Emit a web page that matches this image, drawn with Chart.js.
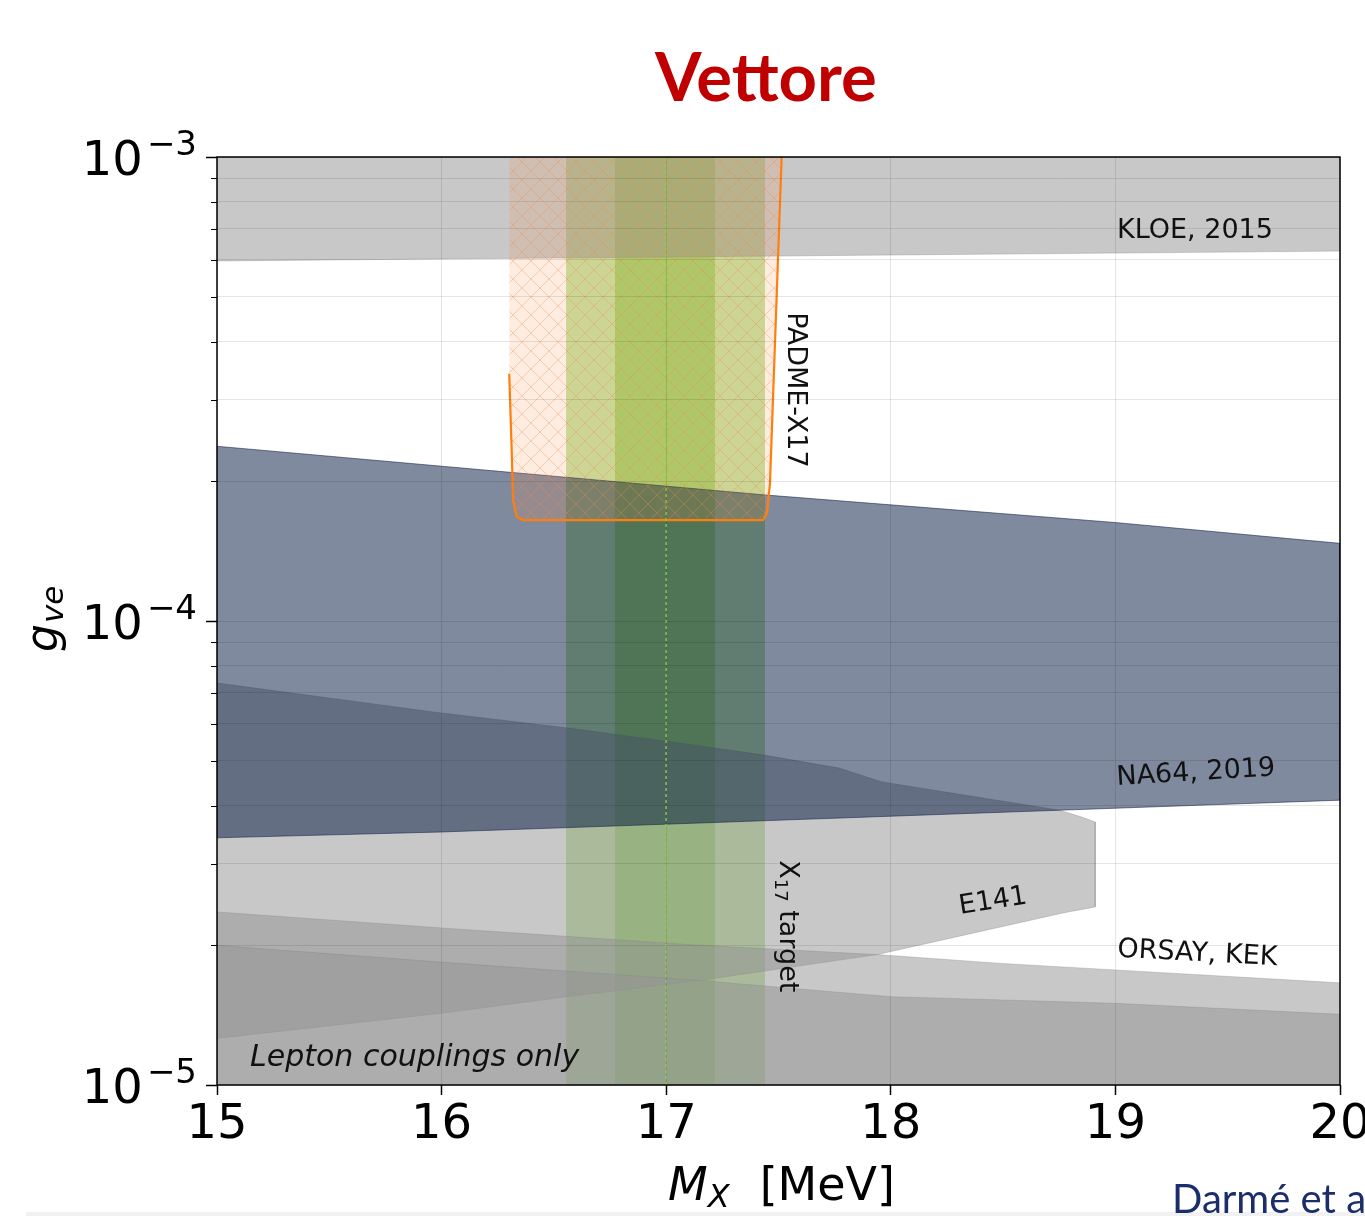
<!DOCTYPE html>
<html>
<head>
<meta charset="utf-8">
<script src="https://cdn.jsdelivr.net/npm/chart.js@4.4.1/dist/chart.umd.min.js"></script>
<style>
  html, body { margin: 0; padding: 0; background: #fff; }
  canvas { display: block; }
</style>
</head>
<body>
<canvas id="c" width="1365" height="1216"></canvas>
<script>
// ---- axes ----
const massRange = [15, 20];                     // M_X [MeV]
const couplingRange = [1e-5, 1e-3];             // g_ve
const couplingDecades = [1e-5, 1e-4, 1e-3];
const couplingGrid = [1e-5, 2e-5, 3e-5, 4e-5, 5e-5, 6e-5, 7e-5, 8e-5, 9e-5,
                      1e-4, 2e-4, 3e-4, 4e-4, 5e-4, 6e-4, 7e-4, 8e-4, 9e-4, 1e-3];

// ---- KLOE 2015: excluded above this edge ----
const kloeMass     = [15, 20];
const kloeCoupling = [5.97e-4, 6.27e-4];

// ---- NA64 2019: excluded band (upper edge left->right, lower edge right->left) ----
const na64Mass     = [15, 17.435, 19.0, 20, 20, 18.75, 17.15, 16.0, 15];
const na64Coupling = [2.38e-4, 1.87e-4, 1.63e-4, 1.47e-4, 4.11e-5, 3.91e-5, 3.67e-5, 3.51e-5, 3.41e-5];

// ---- E141 contour ----
const e141Mass     = [15, 15.96, 16.56, 17.15, 17.435, 17.77, 17.96, 18.75, 18.85, 18.91,
                      18.91, 18.77, 18.28, 17.94, 17.15, 16.56, 16.01, 15];
const e141Coupling = [7.35e-5, 6.37e-5, 5.88e-5, 5.38e-5, 5.14e-5, 4.82e-5, 4.50e-5, 3.91e-5, 3.78e-5, 3.69e-5,
                      2.42e-5, 2.35e-5, 2.08e-5, 1.91e-5, 1.68e-5, 1.55e-5, 1.43e-5, 1.26e-5];

// ---- ORSAY / KEK: two excluded regions below these edges ----
const orsayMass     = [15, 16.0, 17.15, 17.94, 18.48, 19.0, 20];
const orsayCoupling = [2.36e-5, 2.18e-5, 2.00e-5, 1.91e-5, 1.83e-5, 1.77e-5, 1.66e-5];
const kekMass       = [15, 16.0, 17.15, 18.0, 19.0, 20];
const kekCoupling   = [2.00e-5, 1.84e-5, 1.68e-5, 1.55e-5, 1.50e-5, 1.42e-5];

// ---- PADME-X17 projected reach ----
const padmeMass     = [16.301, 16.312, 16.318, 16.334, 16.362, 17.431, 17.449, 17.462, 17.514];
const padmeCoupling = [3.41e-4, 2.34e-4, 1.82e-4, 1.68e-4, 1.65e-4, 1.65e-4, 1.71e-4, 1.98e-4, 1e-3];

// ---- X17 mass target bands ----
const x17Outer  = [16.554, 17.44];
const x17Inner  = [16.772, 17.217];
const x17Centre = 17.0;

// ---- region labels: text, anchor mass, anchor coupling, angle (deg), alignment ----
const regionLabels = [
  { text: 'KLOE, 2015', m: 19.007, g: 6.69e-4, angle: 0,    align: 'left' },
  { text: 'NA64, 2019', m: 19.007, g: 4.43e-5, angle: -3.5, align: 'left' },
  { text: 'ORSAY, KEK', m: 19.007, g: 1.89e-5, angle: 3,    align: 'left' },
  { text: 'E141',       m: 18.46,  g: 2.40e-5, angle: -9,   align: 'center' },
  { text: 'PADME-X17',  m: 17.542, g: 4.63e-4, angle: 90,   align: 'left' }
];

const pts = (xs, ys) => xs.map((m, i) => ({ x: m, y: ys[i] }));
const band = ([lo, hi]) => [
  { x: lo, y: couplingRange[0] }, { x: lo, y: couplingRange[1] },
  { x: hi, y: couplingRange[1] }, { x: hi, y: couplingRange[0] }
];

function hatchPattern() {
  const s = 18;
  const c = document.createElement('canvas');
  c.width = s; c.height = s;
  const g = c.getContext('2d');
  g.fillStyle = 'rgba(255,140,70,0.17)';
  g.fillRect(0, 0, s, s);
  g.strokeStyle = 'rgba(235,140,80,0.36)';
  g.lineWidth = 1;
  g.beginPath();
  g.moveTo(0, 0); g.lineTo(s, s);
  g.moveTo(s, 0); g.lineTo(0, s);
  g.stroke();
  return g.createPattern(c, 'repeat');
}

const greyFill = 'rgba(147,147,147,0.51)';
const greenFill = 'rgba(105,185,30,0.40)';

const common = { showLine: true, pointRadius: 0, pointHoverRadius: 0, tension: 0 };

const datasets = [
  { ...common, label: 'X17 band', data: band(x17Outer), fill: 'shape',
    backgroundColor: greenFill, borderWidth: 0, order: 10 },
  { ...common, label: 'X17 core', data: band(x17Inner), fill: 'shape',
    backgroundColor: greenFill, borderWidth: 0, order: 9 },
  { ...common, label: 'E141', data: pts(e141Mass, e141Coupling), fill: 'shape',
    backgroundColor: greyFill, borderColor: 'rgba(130,130,130,0.35)', borderWidth: 1, order: 8 },
  { ...common, label: 'ORSAY', data: pts(orsayMass, orsayCoupling), fill: 'start',
    backgroundColor: greyFill, borderColor: 'rgba(130,130,130,0.3)', borderWidth: 1, order: 7 },
  { ...common, label: 'KEK', data: pts(kekMass, kekCoupling), fill: 'start',
    backgroundColor: greyFill, borderColor: 'rgba(130,130,130,0.3)', borderWidth: 1, order: 6 },
  { ...common, label: 'KLOE', data: pts(kloeMass, kloeCoupling), fill: 'end',
    backgroundColor: greyFill, borderColor: 'rgba(130,130,130,0.35)', borderWidth: 1, order: 5 },
  { ...common, label: 'NA64', data: pts(na64Mass, na64Coupling), fill: 'shape',
    backgroundColor: 'rgba(0,21,61,0.5)', borderColor: 'rgba(20,35,75,0.55)', borderWidth: 1, order: 4 },
  { ...common, label: 'PADME-X17', data: pts(padmeMass, padmeCoupling), fill: 'end',
    backgroundColor: hatchPattern(), borderColor: '#ff7f0e', borderWidth: 2.2, order: 3 },
  { ...common, label: 'X17 mass', data: [{ x: x17Centre, y: couplingRange[0] }, { x: x17Centre, y: couplingRange[1] }],
    fill: false, borderColor: '#8fd14f', borderWidth: 1.5, borderDash: [3, 3], order: 1 }
];

function text(ctx, str, x, y, font, color, align, angleDeg) {
  ctx.save();
  ctx.translate(x, y);
  ctx.rotate((angleDeg || 0) * Math.PI / 180);
  ctx.font = font;
  ctx.fillStyle = color || '#000';
  ctx.textAlign = align || 'left';
  ctx.textBaseline = 'alphabetic';
  ctx.fillText(str, 0, 0);
  ctx.restore();
}

const decor = {
  id: 'decor',
  beforeDraw(chart) {
    const { ctx } = chart;
    ctx.save();
    ctx.fillStyle = '#f1f1f1';
    ctx.fillRect(26, 1212, 1339, 4);
    ctx.restore();
  },
  afterDraw(chart) {
    const { ctx, chartArea: a, scales: { x, y } } = chart;
    const F = '"DejaVu Sans"';

    // frame
    ctx.save();
    ctx.strokeStyle = '#000';
    ctx.lineWidth = 1.5;
    ctx.strokeRect(a.left, a.top, a.right - a.left, a.bottom - a.top);

    // y tick marks
    couplingGrid.forEach(v => {
      const py = Math.round(y.getPixelForValue(v)) + 0.5;
      const len = couplingDecades.includes(v) ? 11 : 6;
      ctx.beginPath();
      ctx.moveTo(a.left - len, py);
      ctx.lineTo(a.left, py);
      ctx.lineWidth = couplingDecades.includes(v) ? 1.5 : 1;
      ctx.stroke();
    });
    ctx.restore();

    // y tick labels 10^n
    couplingDecades.forEach(v => {
      const py = y.getPixelForValue(v);
      const exp = '\u2212' + Math.abs(Math.round(Math.log10(v)));
      ctx.save();
      ctx.font = '34px ' + F;
      const w = ctx.measureText(exp).width;
      ctx.restore();
      text(ctx, exp, a.left - 20, py - 2, '34px ' + F, '#000', 'right');
      text(ctx, '10', a.left - 20 - w - 4, py + 18, '48px ' + F, '#000', 'right');
    });

    // x axis title: M_X [MeV]
    ctx.save();
    ctx.font = 'italic 46px ' + F; const wM = ctx.measureText('M').width;
    ctx.font = 'italic 32px ' + F; const wX = ctx.measureText('X').width;
    ctx.font = '46px ' + F; const wU = ctx.measureText('[MeV]').width;
    ctx.restore();
    const gap = 30;
    const total = wM + wX + gap + wU;
    const tx = (a.left + a.right) / 2 + 3 - total / 2;
    text(ctx, 'M', tx, 1200, 'italic 46px ' + F, '#000');
    text(ctx, 'X', tx + wM, 1207, 'italic 32px ' + F, '#000');
    text(ctx, '[MeV]', tx + wM + wX + gap, 1200, '46px ' + F, '#000');

    // y axis title: g_ve
    ctx.save();
    ctx.translate(57, 652);
    ctx.rotate(-Math.PI / 2);
    ctx.fillStyle = '#000';
    ctx.font = 'italic 44px ' + F;
    ctx.fillText('g', 0, 0);
    const wg = ctx.measureText('g').width;
    ctx.font = 'italic 31px ' + F;
    ctx.fillText('ve', wg + 1, 6);
    ctx.restore();

    // region labels
    regionLabels.forEach(l => {
      text(ctx, l.text, x.getPixelForValue(l.m), y.getPixelForValue(l.g),
           '27px ' + F, '#111', l.align, l.angle);
    });

    // X17 target (rotated, with subscript)
    ctx.save();
    ctx.translate(x.getPixelForValue(17.507), y.getPixelForValue(3.05e-5));
    ctx.rotate(Math.PI / 2);
    ctx.fillStyle = '#111';
    ctx.font = '27px ' + F;
    ctx.fillText('X', 0, 0);
    let off = ctx.measureText('X').width;
    ctx.font = '18px ' + F;
    ctx.fillText('17', off, 5);
    off += ctx.measureText('17').width;
    ctx.font = '27px ' + F;
    ctx.fillText(' target', off, 0);
    ctx.restore();

    text(ctx, 'Lepton couplings only', x.getPixelForValue(15.147), y.getPixelForValue(1.10e-5),
         'italic 30px ' + F, '#111');

    // title and reference
    text(ctx, 'Vettore', 766, 101, 'bold 67px Lato', '#c00000', 'center');
    text(ctx, 'Darmé et al.', 1172, 1213, '40px Lato', '#1b2d6b', 'left');
  }
};

new Chart(document.getElementById('c'), {
  type: 'scatter',
  data: { datasets },
  plugins: [decor],
  options: {
    responsive: false,
    animation: false,
    events: [],
    layout: { padding: { top: 157, right: 25, left: 0, bottom: 0 } },
    plugins: { legend: { display: false }, tooltip: { enabled: false } },
    scales: {
      x: {
        type: 'linear',
        min: massRange[0], max: massRange[1],
        afterFit(s) { s.height = 131; s.paddingLeft = 0; s.paddingRight = 0; },
        ticks: { stepSize: 1, color: '#000', font: { family: 'DejaVu Sans', size: 48 }, padding: 2, autoSkip: false, maxRotation: 0 },
        grid: { color: 'rgba(0,0,0,0.1)', lineWidth: 1, tickColor: '#000', tickLength: 10, tickWidth: 1.5, z: 1 },
        border: { display: false }
      },
      y: {
        type: 'logarithmic',
        min: couplingRange[0], max: couplingRange[1],
        afterBuildTicks(s) { s.ticks = couplingGrid.map(v => ({ value: v })); },
        afterFit(s) { s.width = 217; },
        ticks: { display: false },
        grid: { color: 'rgba(0,0,0,0.1)', lineWidth: 1, drawTicks: false, z: 1 },
        border: { display: false }
      }
    }
  }
});
</script>
</body>
</html>
